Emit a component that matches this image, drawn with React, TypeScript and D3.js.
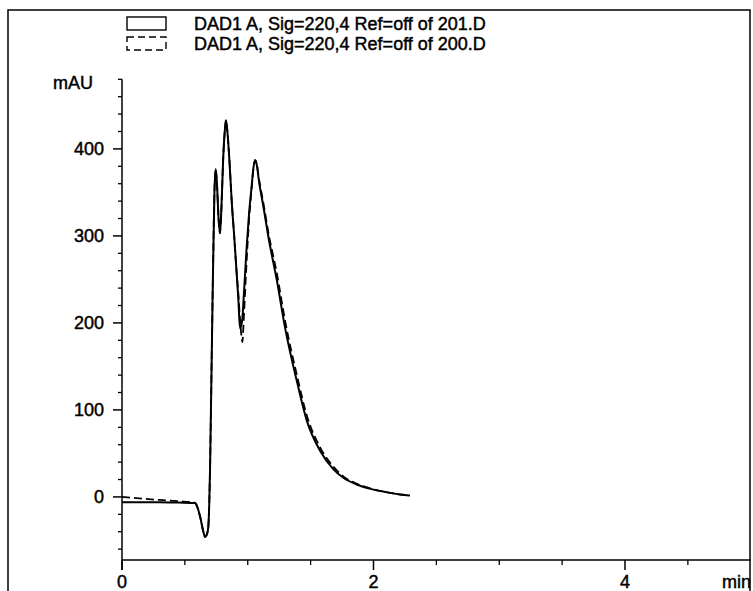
import React from "react";
import * as d3 from "d3";

const legendLabels = [
  "DAD1 A, Sig=220,4 Ref=off of 201.D",
  "DAD1 A, Sig=220,4 Ref=off of 200.D",
];

const timeMin = [
  0, 0.3, 0.45, 0.58, 0.6, 0.62, 0.647, 0.66, 0.675, 0.686, 0.694, 0.7, 0.713, 0.721, 0.735,
  0.745, 0.755, 0.768, 0.779, 0.79, 0.805, 0.817, 0.827, 0.838, 0.855, 0.872, 0.892, 0.912,
  0.926, 0.938, 0.95, 0.957, 0.97, 0.99, 1.01, 1.031, 1.045, 1.058, 1.07, 1.09, 1.124, 1.169,
  1.23, 1.3, 1.389, 1.469, 1.575, 1.68, 1.76, 1.87, 1.97, 2.1, 2.2, 2.29,
];

const signal201 = [
  -6, -6, -6.5, -7, -12, -22, -40, -46, -43, -35, -7, 31, 157, 234, 350,
  377, 360, 320, 303, 330, 390, 420, 433, 420, 385, 341, 300, 257,
  225, 194, 198, 205, 235, 284, 325, 357, 378, 387, 383, 362, 334, 295,
  250, 192, 134, 88, 53, 32, 22, 14, 9.5, 5.5, 3, 1.5,
];

const signal200 = [
  0, -3.5, -5, -6.5, -12, -22, -40, -46, -43, -35, -7, 31, 157, 234, 350,
  377, 360, 320, 303, 330, 390, 420, 433, 420, 385, 341, 300, 257,
  232, 205, 185, 178, 210, 268, 318, 355, 377, 387, 384, 365, 338, 300,
  258, 200, 141, 94, 57, 35, 23.5, 15, 10, 5.5, 3, 1.5,
];

const yMajorTicks = [0, 100, 200, 300, 400];
const xMajorTicks = [0, 2, 4];

export default function App() {
  const x = d3.scaleLinear().domain([0, 5]).range([122, 750.75]);
  const y = d3.scaleLinear().domain([-72.5, 480]).range([560, 79.3]);

  const yMinor = d3.range(-60, 481, 20).filter((v) => v % 100 !== 0);
  const xMinor = d3.range(0.5, 5, 0.5).filter((v) => !xMajorTicks.includes(v));

  const line = d3
    .line<number>()
    .x((_, i) => x(timeMin[i]))
    .y((d) => y(d))
    .curve(d3.curveMonotoneX);

  const font = "'Liberation Sans', Arial, sans-serif";
  const textStyle = { stroke: "#000", strokeWidth: 0.45 };

  return (
    <svg
      width={753}
      height={591}
      style={{ position: "absolute", left: 0, top: 0, background: "#fff" }}
      fontFamily={font}
    >
      <rect x={0} y={0} width={753} height={591} fill="#fff" />
      {/* outer frame */}
      <path d="M8,600 L8,10 L750,10 L750,600" fill="none" stroke="#000" strokeWidth={1.5} />

      {/* legend */}
      <rect x={127} y={17} width={39} height={13} fill="none" stroke="#000" strokeWidth={1.4} />
      <rect
        x={127}
        y={37}
        width={39}
        height={13}
        fill="none"
        stroke="#000"
        strokeWidth={1.4}
        strokeDasharray="7,4"
      />
      <text x={194} y={30} fontSize={18} fill="#000" style={textStyle}>
        {legendLabels[0]}
      </text>
      <text x={194} y={50} fontSize={18} fill="#000" style={textStyle}>
        {legendLabels[1]}
      </text>

      {/* y axis */}
      <line x1={x(0)} x2={x(0)} y1={y(480)} y2={570} stroke="#000" strokeWidth={1.5} />
      {yMajorTicks.map((v) => (
        <g key={"ym" + v}>
          <line x1={x(0) - 9} x2={x(0)} y1={y(v)} y2={y(v)} stroke="#000" strokeWidth={1.5} />
          <text x={104} y={y(v) + 6.5} fontSize={18} textAnchor="end" fill="#000" style={textStyle}>
            {v}
          </text>
        </g>
      ))}
      {yMinor.map((v) => (
        <line key={"yn" + v} x1={x(0) - 4} x2={x(0)} y1={y(v)} y2={y(v)} stroke="#000" strokeWidth={1.3} />
      ))}
      <text x={53} y={89} fontSize={18} fill="#000" style={textStyle}>
        mAU
      </text>

      {/* x axis */}
      <line x1={x(0)} x2={751} y1={y(-72.5)} y2={y(-72.5)} stroke="#000" strokeWidth={1.3} />
      {xMajorTicks.map((t) => (
        <g key={"xm" + t}>
          <line x1={x(t)} x2={x(t)} y1={y(-72.5)} y2={y(-72.5) + 10} stroke="#000" strokeWidth={1.5} />
          <text x={x(t)} y={588} fontSize={18} textAnchor="middle" fill="#000" style={textStyle}>
            {t}
          </text>
        </g>
      ))}
      {xMinor.map((t) => (
        <line key={"xn" + t} x1={x(t)} x2={x(t)} y1={y(-72.5)} y2={y(-72.5) + 5} stroke="#000" strokeWidth={1.3} />
      ))}
      <text x={722} y={588} fontSize={18} fill="#000" style={textStyle}>
        min
      </text>

      {/* traces */}
      <path d={line(signal200) || ""} fill="none" stroke="#000" strokeWidth={1.8} strokeDasharray="8,4" />
      <path d={line(signal201) || ""} fill="none" stroke="#000" strokeWidth={2} />
    </svg>
  );
}
